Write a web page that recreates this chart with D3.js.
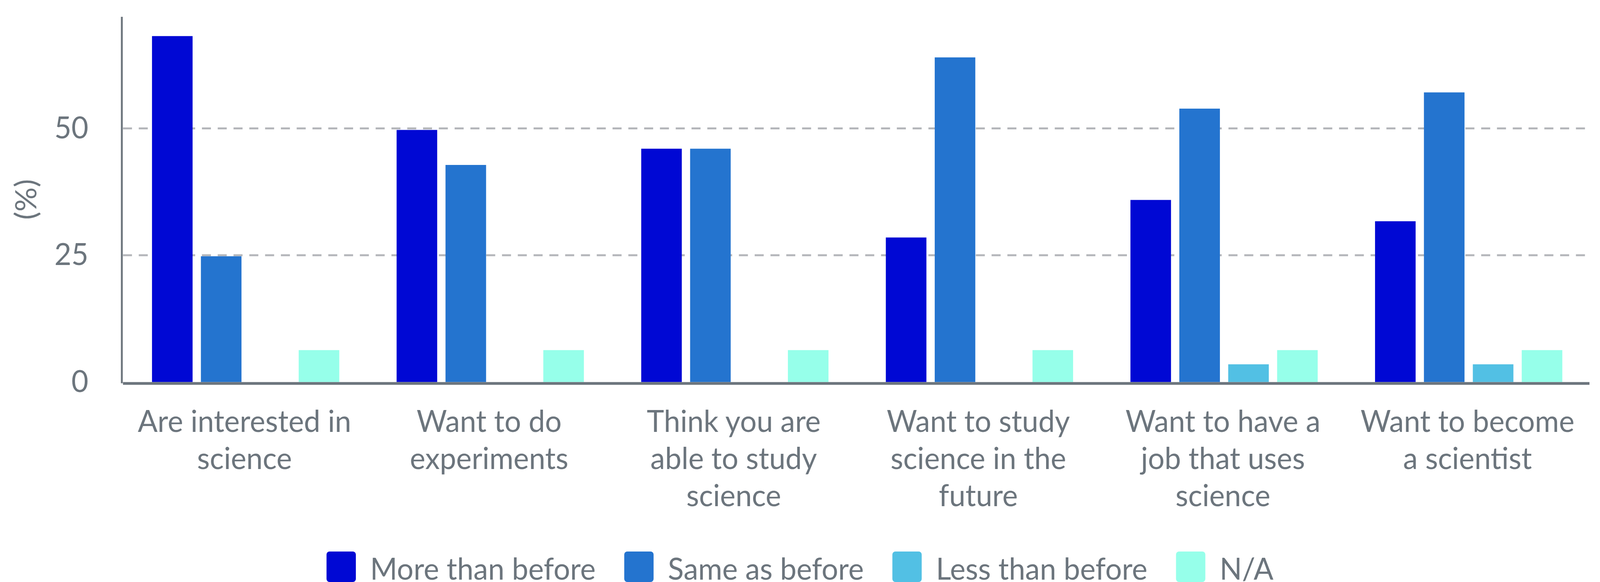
<!DOCTYPE html>
<html>
<head>
<meta charset="utf-8">
<script src="https://cdn.jsdelivr.net/npm/d3@7"></script>
<style>
  html, body { margin: 0; padding: 0; width: 100%; height: 100%; overflow: hidden; background: #fff; }
  #chart-area { width: 100%; height: 100%; }
  svg { display: block; }
  text { font-family: Lato, "Open Sans", sans-serif; fill: #6c757d; }
</style>
</head>
<body>
<div id="chart-area"></div>
<script>
var width = 4255;
var height = 1489;

// data (%)
var categories = ["interested", "experiments", "able", "future", "job", "scientist"];
var tickLabels = [
    ["Are interested in", "science"],
    ["Want to do", "experiments"],
    ["Think you are", "able to study", "science"],
    ["Want to study", "science in the", "future"],
    ["Want to have a", "job that uses", "science"],
    ["Want to become", "a scientist"]
];
var seriesNames = ["More than before", "Same as before", "Less than before", "N/A"];
var seriesColors = ["#0008d4", "#2474cf", "#52c0e4", "#96ffea"];
var moreThanBefore = [68.2, 49.7, 46.0, 28.5, 35.9, 31.7];
var sameAsBefore   = [24.8, 42.8, 46.0, 64.0, 53.9, 57.1];
var lessThanBefore = [0, 0, 0, 0, 3.5, 3.5];
var notApplicable  = [6.3, 6.3, 6.3, 6.3, 6.3, 6.3];
var yTicks = [0, 25, 50];

var seriesValues = [moreThanBefore, sameAsBefore, lessThanBefore, notApplicable];

var axisX = 324;
var plotRight = 4227;
var plotTop = 43;
var zeroY = 977.5;

// viewBox so the drawing fills the window whatever its real css size
var svg = d3.select("#chart-area").append("svg")
    .attr("viewBox", "0 0 " + width + " " + height)
    .attr("preserveAspectRatio", "none")
    .attr("width", "100%")
    .attr("height", "100%");

var x0 = d3.scaleBand()
    .domain(categories)
    .range([axisX + 4, plotRight + 4])
    .paddingInner(0.2344)
    .paddingOuter(0.1172);

var x1 = d3.scaleBand()
    .domain(seriesNames)
    .range([0, x0.bandwidth()])
    .paddingInner(0.17);

var y = d3.scaleLinear()
    .domain([0, 72])
    .range([zeroY, plotTop]);

// dashed grid lines
svg.append("g").selectAll("line")
    .data(yTicks.filter(d => d > 0))
    .enter().append("line")
    .attr("x1", axisX + 3)
    .attr("x2", 4215)
    .attr("y1", d => y(d))
    .attr("y2", d => y(d))
    .attr("stroke", "#b4b6ba")
    .attr("stroke-width", 5)
    .attr("stroke-dasharray", "24,18");

// bars
var groups = svg.append("g").selectAll("g")
    .data(categories)
    .enter().append("g")
    .attr("transform", d => "translate(" + x0(d) + ",0)");

groups.selectAll("rect")
    .data((d, i) => seriesNames.map((s, j) => ({ series: s, value: seriesValues[j][i], color: seriesColors[j] })))
    .enter().append("rect")
    .filter(d => d.value > 0)
    .attr("x", d => x1(d.series))
    .attr("y", d => y(d.value))
    .attr("width", x1.bandwidth())
    .attr("height", d => zeroY - y(d.value))
    .attr("fill", d => d.color);

// y axis
var yAxis = d3.axisLeft(y)
    .tickValues(yTicks)
    .tickSize(0)
    .tickPadding(89);

var yAxisG = svg.append("g")
    .attr("transform", "translate(" + axisX + ",0)")
    .call(yAxis);
yAxisG.select(".domain").remove();
yAxisG.selectAll("text")
    .attr("font-size", 78)
    .attr("font-family", "Lato, sans-serif")
    .attr("fill", "#6c757d");

svg.append("line")
    .attr("x1", axisX).attr("x2", axisX)
    .attr("y1", plotTop).attr("y2", zeroY + 3)
    .attr("stroke", "#6c757d")
    .attr("stroke-width", 5);

svg.append("line")
    .attr("x1", axisX + 3).attr("x2", plotRight)
    .attr("y1", zeroY + 3.5).attr("y2", zeroY + 3.5)
    .attr("stroke", "#6c757d")
    .attr("stroke-width", 7);

svg.append("text")
    .attr("transform", "translate(97," + ((plotTop + zeroY) / 2) + ") rotate(-90)")
    .attr("text-anchor", "middle")
    .attr("font-size", 78)
    .text("(%)");

// category labels
var labels = svg.append("g").selectAll("text")
    .data(categories)
    .enter().append("text")
    .attr("text-anchor", "middle")
    .attr("font-size", 78)
    .attr("y", 1105);

labels.selectAll("tspan")
    .data((d, i) => tickLabels[i])
    .enter().append("tspan")
    .attr("x", function () { var c = d3.select(this.parentNode).datum(); return x0(c) + x0.bandwidth() / 2 - 3; })
    .attr("dy", (d, i) => i === 0 ? 0 : 95)
    .text(d => d);

// legend
var legend = svg.append("g");
var items = legend.selectAll("g")
    .data(seriesNames)
    .enter().append("g");

items.append("rect")
    .attr("y", 1411)
    .attr("width", 78)
    .attr("height", 78)
    .attr("rx", 8)
    .attr("fill", (d, i) => seriesColors[i]);

items.append("text")
    .attr("x", 116)
    .attr("y", 1483)
    .attr("font-size", 78)
    .text(d => d);

var gap = 76;
var offsets = [];
var total = 0;
items.each(function (d, i) {
    var w = 116 + d3.select(this).select("text").node().getComputedTextLength();
    offsets.push(total);
    total += w + (i < seriesNames.length - 1 ? gap : 0);
});
var startX = (width - total) / 2;
items.attr("transform", (d, i) => "translate(" + (startX + offsets[i]) + ",0)");
</script>
</body>
</html>
